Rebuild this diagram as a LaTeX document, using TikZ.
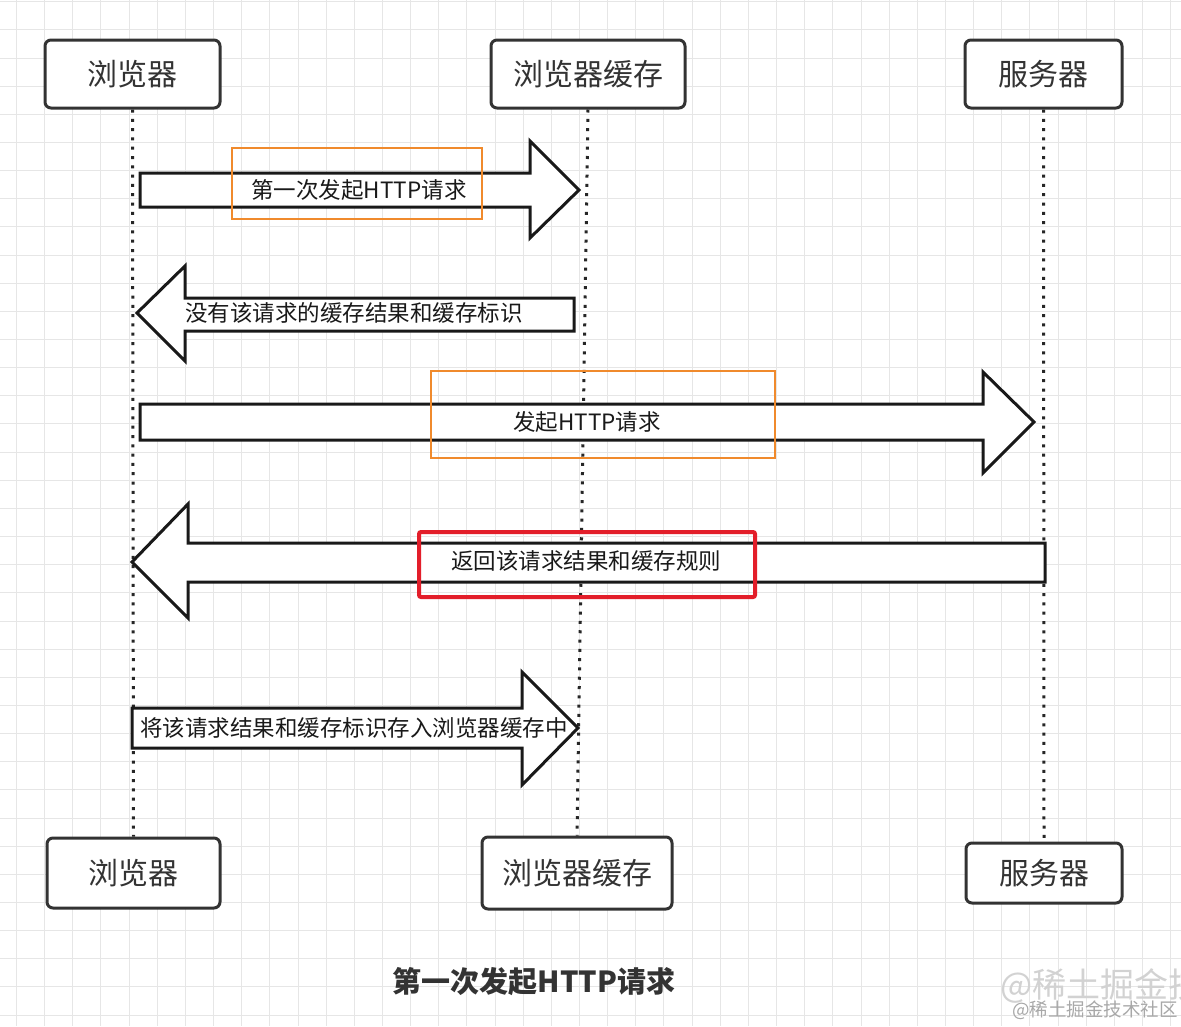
\documentclass[tikz,border=0pt]{standalone}
\usepackage{fontspec}
\setmainfont{Noto Sans CJK SC}
\definecolor{boxgray}{HTML}{333333}
\definecolor{textgray}{HTML}{333333}
\definecolor{gridc}{HTML}{E6E6E6}
\definecolor{hlorange}{HTML}{F08A2C}
\definecolor{hlred}{HTML}{E31E2A}
\definecolor{wm1}{HTML}{D2D2D2}
\definecolor{wm2}{HTML}{A8A8A8}
\begin{document}
\begin{tikzpicture}[x=1pt,y=-1pt,
  actor/.style={draw=boxgray, line width=3pt, rounded corners=6pt, fill=white,
    font=\fontsize{30}{36}\selectfont, text=textgray, inner sep=0pt},
  life/.style={line width=3pt, draw=black!85, dash pattern=on 3pt off 6.3pt},
  blk/.style={draw=black!90, line width=3pt, fill=white, line join=miter},
  lbl/.style={font=\fontsize{22.5}{26}\selectfont, text=black!90, inner sep=0pt},
  hlo/.style={draw=hlorange, line width=2pt},
  hlr/.style={draw=hlred, line width=4pt, rounded corners=2pt},
]
\useasboundingbox (0,0) rectangle (1181,1026);
\fill[white] (0,0) rectangle (1181,1026);
% grid
\foreach \i in {0,...,41} {\draw[gridc, line width=1pt] (16.5+28.15*\i,0) -- (16.5+28.15*\i,1026);}
\foreach \j in {0,...,36} {\draw[gridc, line width=1pt] (0,1.7+28.15*\j) -- (1181,1.7+28.15*\j);}

% actors
\node[actor, minimum width=175pt, minimum height=68pt] (b1) at (132.5,74) {浏览器};
\node[actor, minimum width=194pt, minimum height=68pt] (c1) at (588,74) {浏览器缓存};
\node[actor, minimum width=157pt, minimum height=68pt] (s1) at (1043.5,74) {服务器};
\node[actor, minimum width=173pt, minimum height=70pt] (b2) at (133.5,873) {浏览器};
\node[actor, minimum width=190pt, minimum height=72pt] (c2) at (577,873) {浏览器缓存};
\node[actor, minimum width=156pt, minimum height=60pt] (s2) at (1044,873) {服务器};

% lifelines
\draw[life] (b1.south) -- (b2.north);
\draw[life] (c1.south) -- (c2.north);
\draw[life] (s1.south) -- (s2.north);

% arrow 1
\draw[blk] (140,173) -- (530,173) -- (530,141) -- (579,190) -- (530,238) -- (530,207) -- (140,207) -- cycle;
\node[lbl] (t1) at (359,190) {第一次发起HTTP请求};
\draw[hlo] (232,148) rectangle (482,219);

% arrow 2
\draw[blk] (574,298) -- (185,298) -- (185,266) -- (137,313) -- (185,361) -- (185,331) -- (574,331) -- cycle;
\node[lbl] (t2) at (354,313) {没有该请求的缓存结果和缓存标识};

% arrow 3
\draw[blk] (140,404) -- (983,404) -- (983,372) -- (1034,422) -- (983,473) -- (983,440) -- (140,440) -- cycle;
\node[lbl] (t3) at (587,422) {发起HTTP请求};
\draw[hlo] (431,371) rectangle (775,458);

% arrow 4
\draw[blk] (1045,543) -- (188,543) -- (188,504) -- (132,562) -- (188,618) -- (188,582) -- (1045,582) -- cycle;
\node[lbl] (t4) at (586,561) {返回该请求结果和缓存规则};
\draw[hlr] (419,532) rectangle (755,597);

% arrow 5
\draw[blk] (132,708) -- (522,708) -- (522,672) -- (578,728) -- (522,785) -- (522,748) -- (132,748) -- cycle;
\node[lbl] (t5) at (354,728) {将该请求结果和缓存标识存入浏览器缓存中};

% title
\node[font=\fontsize{29}{34}\selectfont\bfseries, text=textgray, inner sep=0pt] (title) at (534,982) {第一次发起HTTP请求};

% watermark
\node[font=\fontsize{34}{40}\selectfont, text=wm1, inner sep=0pt, anchor=west] (wma) at (1000,986) {@稀土掘金技};
\node[font=\fontsize{18.5}{22}\selectfont, text=wm2, inner sep=0pt, anchor=west] (wmb) at (1012,1010) {@稀土掘金技术社区};
\end{tikzpicture}
\end{document}
